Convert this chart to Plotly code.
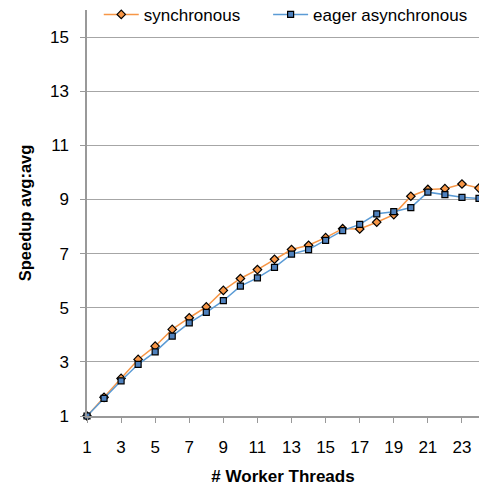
import plotly.graph_objects as go

threads = list(range(1, 25))
synchronous = [1.0, 1.69, 2.39, 3.09, 3.58, 4.20, 4.63, 5.03, 5.64, 6.08, 6.41, 6.79,
               7.15, 7.31, 7.59, 7.92, 7.91, 8.16, 8.44, 9.12, 9.37, 9.40, 9.57, 9.42]
eager_async = [1.0, 1.65, 2.30, 2.91, 3.37, 3.95, 4.44, 4.83, 5.26, 5.80, 6.10, 6.49,
               6.98, 7.15, 7.49, 7.85, 8.08, 8.47, 8.55, 8.70, 9.27, 9.18, 9.08, 9.04]
x_ticks = list(range(1, 25, 2))
y_ticks = list(range(1, 16, 2))

fig = go.Figure()
fig.add_trace(go.Scatter(
    x=threads, y=synchronous, name="synchronous", mode="lines+markers",
    line=dict(color="#F79646", width=1.5),
    marker=dict(symbol="diamond", size=6.5, color="#F79646", line=dict(color="black", width=1.2)),
    cliponaxis=False, legend="legend"))
fig.add_trace(go.Scatter(
    x=threads, y=eager_async, name="eager asynchronous", mode="lines+markers",
    line=dict(color="#5B9BD5", width=1.5),
    marker=dict(symbol="square", size=6, color="#4F81BD", line=dict(color="black", width=1.2)),
    cliponaxis=False, legend="legend2"))

leg_common = dict(orientation="h", y=0.988, xanchor="left", yanchor="middle",
                  bgcolor="rgba(255,255,255,0)", font=dict(size=17), itemwidth=35)

fig.update_layout(
    width=479, height=490,
    margin=dict(l=87, r=0, t=10, b=74, autoexpand=False),
    paper_bgcolor="white", plot_bgcolor="white",
    font=dict(family="Liberation Sans, Arial, sans-serif", size=17, color="black"),
    showlegend=True,
    legend=dict(x=0.03, **leg_common),
    legend2=dict(x=0.462, **leg_common),
    xaxis=dict(range=[1, 24], tickvals=x_ticks, ticks="outside", ticklen=5,
               tickcolor="#999999", showline=True, linecolor="#999999", linewidth=1.5,
               showgrid=False, zeroline=False, ticklabelstandoff=10,
               title=dict(text="<b># Worker Threads</b>", font=dict(size=17), standoff=14)),
    yaxis=dict(range=[1, 16], tickvals=y_ticks, ticks="outside", ticklen=5,
               tickcolor="#999999", showline=True, linecolor="#999999", linewidth=1.5,
               showgrid=True, gridcolor="#A6A6A6", gridwidth=1.3, zeroline=False,
               ticklabelstandoff=8,
               title=dict(text="<b>Speedup avg:avg</b>", font=dict(size=16.5), standoff=14)),
)

fig.write_html("out.html", config={"displayModeBar": False},
               post_script="document.body.style.margin='0';")
